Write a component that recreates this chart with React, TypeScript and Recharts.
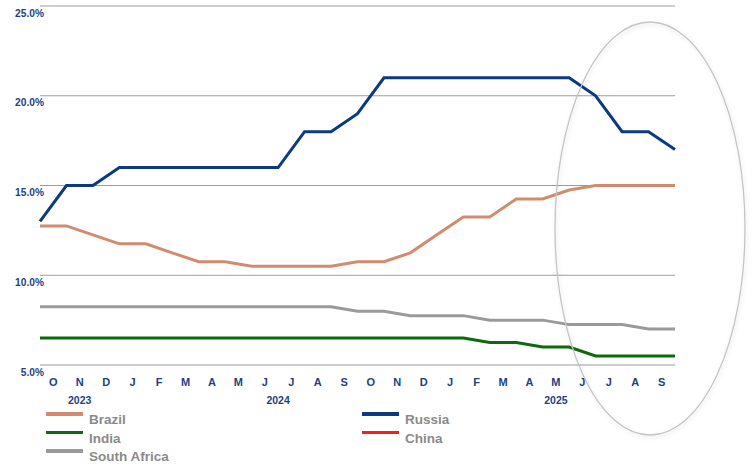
import React from 'react';
import { LineChart, Line, XAxis, YAxis, CartesianGrid } from 'recharts';

const months = ['O', 'N', 'D', 'J', 'F', 'M', 'A', 'M', 'J', 'J', 'A', 'S', 'O', 'N', 'D', 'J', 'F', 'M', 'A', 'M', 'J', 'J', 'A', 'S'];
const years = ['2023', '2024', '2025'];
const yearTicks = [1.5, 9, 19.5];
const yTicks = [5, 10, 15, 20, 25];

const brazil = [12.75, 12.75, 12.25, 11.75, 11.75, 11.25, 10.75, 10.75, 10.5, 10.5, 10.5, 10.5, 10.75, 10.75, 11.25, 12.25, 13.25, 13.25, 14.25, 14.25, 14.75, 15, 15, 15, 15];
const russia = [13, 15, 15, 16, 16, 16, 16, 16, 16, 16, 18, 18, 19, 21, 21, 21, 21, 21, 21, 21, 21, 20, 18, 18, 17];
const india = [6.5, 6.5, 6.5, 6.5, 6.5, 6.5, 6.5, 6.5, 6.5, 6.5, 6.5, 6.5, 6.5, 6.5, 6.5, 6.5, 6.5, 6.25, 6.25, 6, 6, 5.5, 5.5, 5.5, 5.5];
const southAfrica = [8.25, 8.25, 8.25, 8.25, 8.25, 8.25, 8.25, 8.25, 8.25, 8.25, 8.25, 8.25, 8, 8, 7.75, 7.75, 7.75, 7.5, 7.5, 7.5, 7.25, 7.25, 7.25, 7, 7];
// China sits below the 5% floor, so nothing is drawn for it
const china: (number | null)[] = brazil.map(() => null);

const series = [
  { key: 'brazil', name: 'Brazil', color: '#D38B70' },
  { key: 'india', name: 'India', color: '#0B6A0B' },
  { key: 'southAfrica', name: 'South Africa', color: '#9A9A9A' },
  { key: 'russia', name: 'Russia', color: '#0B3A80' },
  { key: 'china', name: 'China', color: '#FF1A1A' },
];

const data = brazil.map((b, i) => ({
  i,
  brazil: b,
  russia: russia[i],
  india: india[i],
  southAfrica: southAfrica[i],
  china: china[i],
}));

const AXIS_BLUE = '#1E3F82';
const FONT = '"Liberation Sans", Arial, sans-serif';

const LeftTick = ({ x, y, payload }: any) => (
  <text x={x + 4} y={y + 10.5} textAnchor="end" fill={AXIS_BLUE} fontSize={10.2} fontWeight="bold" fontFamily={FONT}>
    {payload.value.toFixed(1)}%
  </text>
);

const RightTick = ({ x, y, payload }: any) => (
  <text x={x + 5} y={y + 10.5} textAnchor="start" fill={AXIS_BLUE} fontSize={10.2} fontWeight="bold" fontFamily={FONT}>
    {payload.value.toFixed(1)}%
  </text>
);

const MonthTick = ({ x, y, payload }: any) => (
  <text x={x} y={y + 19} textAnchor="middle" fill={AXIS_BLUE} fontSize={11} fontWeight="bold" fontFamily={FONT}>
    {months[Math.floor(payload.value)]}
  </text>
);

const YearTick = ({ x, y, payload }: any) => (
  <text x={x} y={y + 14.5} textAnchor="middle" fill={AXIS_BLUE} fontSize={10.5} fontWeight="bold" fontFamily={FONT}>
    {years[yearTicks.indexOf(payload.value)]}
  </text>
);

function LegendItem({ name, color, left, top }: { name: string; color: string; left: number; top: number }) {
  return (
    <div style={{ position: 'absolute', left, top }}>
      <div style={{ position: 'absolute', left: 0, top: 0, width: 37, height: 3.5, background: color }} />
      <div style={{ position: 'absolute', left: 43, top: 0, fontSize: 13.5, fontWeight: 'bold', color: '#8A8A8A', whiteSpace: 'nowrap', lineHeight: '16px' }}>
        {name}
      </div>
    </div>
  );
}

export default function App() {
  const legendPos = [
    { left: 46, top: 412 },
    { left: 46, top: 430.5 },
    { left: 46, top: 449 },
    { left: 362, top: 412 },
    { left: 362, top: 430.5 },
  ];
  return (
    <div style={{ position: 'absolute', left: 0, top: 0, width: 754, height: 469, background: '#fff', fontFamily: FONT, overflow: 'hidden' }}>
      <LineChart width={754} height={405} data={data} margin={{ top: 6, right: 0, left: 0, bottom: 0 }}>
        <CartesianGrid yAxisId="left" horizontal vertical={false} stroke="#9C9C9C" strokeWidth={1} />
        <XAxis
          xAxisId="m"
          dataKey="i"
          type="number"
          domain={[0, 24]}
          ticks={months.map((_, k) => k + 0.5)}
          interval={0}
          tick={<MonthTick />}
          axisLine={false}
          tickLine={false}
          tickSize={0}
          height={22}
        />
        <XAxis
          xAxisId="y"
          dataKey="i"
          type="number"
          domain={[0, 24]}
          ticks={yearTicks}
          interval={0}
          tick={<YearTick />}
          axisLine={false}
          tickLine={false}
          tickSize={0}
          height={18}
        />
        <YAxis yAxisId="left" domain={[5, 25]} ticks={yTicks} interval={0} width={40} axisLine={false} tickLine={false} tickSize={0} tickMargin={0} tick={<LeftTick />} />
        <YAxis yAxisId="right" orientation="right" domain={[5, 25]} ticks={yTicks} interval={0} width={79} axisLine={false} tickLine={false} tickSize={0} tickMargin={0} tick={<RightTick />} />
        {series.map((s) => (
          <Line
            key={s.key}
            xAxisId="m"
            yAxisId="left"
            type="linear"
            dataKey={s.key}
            name={s.name}
            stroke={s.color}
            strokeWidth={3}
            dot={false}
            activeDot={false}
            connectNulls={false}
            isAnimationActive={false}
          />
        ))}
      </LineChart>
      <svg width={754} height={469} style={{ position: 'absolute', left: 0, top: 0, pointerEvents: 'none' }}>
        <defs>
          <filter id="soft" x="-20%" y="-20%" width="140%" height="140%">
            <feDropShadow dx={1} dy={2} stdDeviation={2} floodColor="#000" floodOpacity={0.12} />
          </filter>
        </defs>
        <ellipse cx={650} cy={228.5} rx={95} ry={206.5} fill="none" stroke="#C4C4C4" strokeWidth={1.3} filter="url(#soft)" />
      </svg>
      {series.map((s, k) => (
        <LegendItem key={s.key} name={s.name} color={s.color} left={legendPos[k].left} top={legendPos[k].top} />
      ))}
    </div>
  );
}
